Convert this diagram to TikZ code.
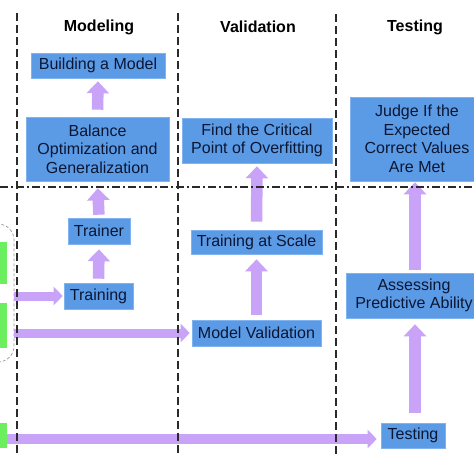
\documentclass[tikz,border=0pt]{standalone}
\usepackage{fontspec}
\setmainfont{Liberation Sans}
\usetikzlibrary{arrows.meta}
\definecolor{boxblue}{HTML}{5B9BE6}
\definecolor{boxedge}{HTML}{80B4F0}
\definecolor{navy}{HTML}{0B1633}
\definecolor{lav}{HTML}{C9A3F7}
\definecolor{grn}{HTML}{6BEF5F}
\definecolor{lineg}{HTML}{2A2A2A}
\tikzset{
  stepbox/.style={fill=boxblue, draw=boxedge, line width=0.6pt, text=navy, align=center,
    inner sep=0pt, font=\fontsize{16}{18.5}\selectfont},
  header/.style={font=\bfseries\fontsize{16}{19}\selectfont, text=black, inner sep=0pt},
  greenbox/.style={fill=grn, draw=none, inner sep=0pt},
  grpbox/.style={draw=gray!80, dashed, dash pattern=on 3pt off 2pt, line width=0.7pt, rounded corners=16pt, inner sep=0pt},
  varrow/.style={draw=lav, line width=11.5pt, -{Triangle[width=22pt,length=12pt]}},
  harrow/.style={draw=lav, line width=9pt, -{Triangle[width=18pt,length=9pt]}},
  vsep/.style={draw=lineg, line width=1.4pt, dash pattern=on 8pt off 4pt},
  hsep/.style={draw=lineg, line width=1.4pt, dash pattern=on 8pt off 3pt on 2pt off 3pt},
}
\begin{document}
\begin{tikzpicture}[x=1pt, y=-1pt]
\useasboundingbox (0,0) rectangle (474,474);
\clip (0,0) rectangle (474,474);
\fill[white] (0,0) rectangle (474,474);

% headers
\node[header] (hmod) at (99,27) {Modeling};
\node[header] (hval) at (258,27) {Validation};
\node[header] (htest) at (415,27) {Testing};

% boxes
\node[stepbox, minimum width=134pt, minimum height=25pt] (build) at (98,65.5) {Building a Model};
\node[stepbox, minimum width=143pt, minimum height=64pt] (balance) at (97.5,149) {Balance\\Optimization and\\Generalization};
\node[stepbox, minimum width=62pt, minimum height=26pt] (trainer) at (99,231) {Trainer};
\node[stepbox, minimum width=69pt, minimum height=26pt] (training) at (98.5,296) {Training};
\node[stepbox, minimum width=150pt, minimum height=45pt] (find) at (257,140.5) {Find the Critical\\Point of Overfitting};
\node[stepbox, minimum width=131pt, minimum height=24pt] (tscale) at (256.5,242) {Training at Scale};
\node[stepbox, minimum width=129pt, minimum height=26pt] (mval) at (256.5,333) {Model Validation};
\node[stepbox, minimum width=134pt, minimum height=84pt] (judge) at (417,139) {Judge If the\\Expected\\Correct Values\\Are Met};
\node[stepbox, minimum width=136pt, minimum height=45pt] (assess) at (414,295.5) {Assessing\\Predictive Ability};
\node[stepbox, minimum width=64pt, minimum height=25pt] (testing) at (413,435.5) {Testing};

% left group
\node[grpbox, minimum width=44pt, minimum height=138pt] (grp) at (-8,293) {};
\node[greenbox, minimum width=20pt, minimum height=42pt] (g1) at (-3,263) {};
\node[greenbox, minimum width=20pt, minimum height=45pt] (g2) at (-3,325.5) {};
\node[greenbox, minimum width=20pt, minimum height=25pt] (g3) at (-3,435.5) {};

% vertical arrows
\draw[varrow, shorten <=7pt, shorten >=3pt] (balance.north) -- (build.south);
\draw[varrow, shorten <=3pt, shorten >=7pt] (trainer.north) -- (balance.south);
\draw[varrow, shorten <=4pt, shorten >=5pt] (training.north) -- (trainer.south);
\draw[varrow, shorten <=8pt, shorten >=3pt] (tscale.north) -- (find.south);
\draw[varrow, shorten <=5pt, shorten >=5pt] (mval.north) -- (tscale.south);
\draw[varrow, shorten <=10pt, shorten >=6pt] ([xshift=2pt]testing.north) -- ([xshift=1pt]assess.south);
\draw[varrow, shorten <=3pt, shorten >=1pt] ([xshift=1pt]assess.north) -- ([xshift=-2pt]judge.south);

% horizontal arrows
\draw[harrow, shorten >=1pt] (grp.east |- training.west) -- (training.west);
\draw[harrow, shorten >=2pt] (grp.east |- mval.west) -- (mval.west);
\draw[harrow, line width=10pt, -{Triangle[width=18pt,length=9pt]}, shorten >=4pt] ([yshift=-3.5pt]g3.east) -- ([yshift=-3.5pt]testing.west);

% separators
\coordinate (v1t) at (17,13); \coordinate (v1b) at (17,454);
\coordinate (v2t) at (178,13); \coordinate (v2b) at (178,454);
\coordinate (v3t) at (336,14); \coordinate (v3b) at (336,454);
\coordinate (hl) at (0,187); \coordinate (hr) at (474,187);
\draw[vsep] (v1t) -- (v1b);
\draw[vsep] (v2t) -- (v2b);
\draw[vsep] (v3t) -- (v3b);
\draw[hsep] (hl) -- (hr);
\end{tikzpicture}
\end{document}
